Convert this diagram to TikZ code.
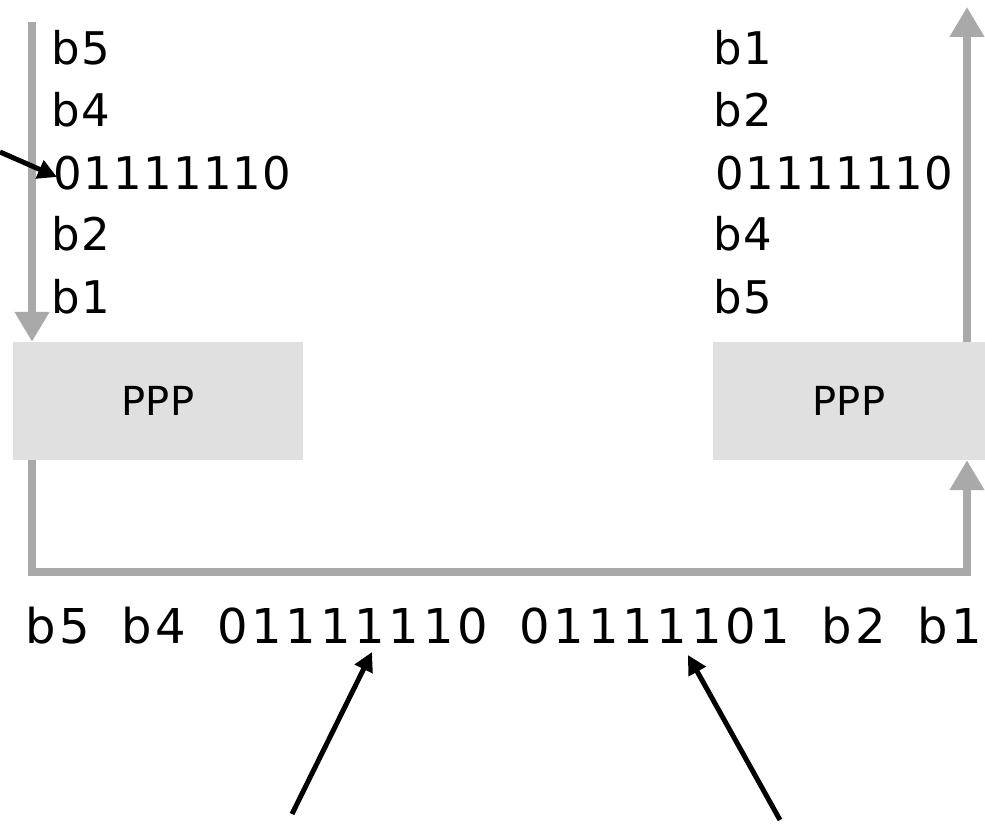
\documentclass[tikz,border=0pt]{standalone}
\usepackage{fontspec}
\setmainfont{DejaVu Sans}
\usetikzlibrary{arrows.meta}
\definecolor{pipe}{HTML}{A9A9A9}
\definecolor{boxfill}{HTML}{E0E0E0}
\newcommand{\gap}{\hspace{12pt} }
\tikzset{
  bits/.style={inner sep=0pt, anchor=base west, font=\fontsize{45}{54}\selectfont\addfontfeature{LetterSpace=3}},
  stream/.style={inner sep=0pt, anchor=base west, font=\fontsize{48}{58}\selectfont\addfontfeature{LetterSpace=8}},
  pppbox/.style={fill=boxfill, draw=none, minimum height=118pt, inner sep=0pt, font=\fontsize{40}{48}\selectfont},
  flow/.style={draw=pipe, line width=8pt, line cap=butt, line join=miter},
  flowtip/.style={-{Triangle[width=33pt,length=30pt]}},
  pointer/.style={draw=black, line width=5pt, -{Triangle[width=19pt,length=19pt]}}
}
\begin{document}
\begin{tikzpicture}[x=1pt,y=-1pt]
\useasboundingbox (0,0) rectangle (985,826);

% protocol boxes
\node[pppbox, minimum width=290pt] (pppA) at (158,401) {PPP};
\node[pppbox, minimum width=272pt] (pppB) at (849,401) {PPP};

% sender side: bytes handed down to PPP
\node[bits] (sb5) at (51,65)  {b5};
\node[bits] (sb4) at (51,127) {b4};
\node[bits] (sflag) at (53,190) {01111110};
\node[bits] (sb2) at (51,251) {b2};
\node[bits] (sb1) at (51,313) {b1};

% receiver side: bytes handed up from PPP
\node[bits] (rb1) at (713,65)  {b1};
\node[bits] (rb2) at (713,127) {b2};
\node[bits] (rflag) at (715,190) {01111110};
\node[bits] (rb4) at (713,251) {b4};
\node[bits] (rb5) at (713,313) {b5};

% stuffed byte stream on the link
\node[stream] (link) at (25,643) {b5\gap b4\gap 01111110\gap 01111101\gap b2\gap b1};

% gray data path
\coordinate (inTop) at (32,22);
\coordinate (outTop) at (967,7);
\coordinate (cornerA) at (32,572);
\coordinate (cornerB) at (967,572);
\draw[flow, flowtip] (inTop) -- (inTop |- pppA.north);
\draw[flow, flowtip] (cornerA |- pppA.south) -- (cornerA) -- (cornerB) -- (cornerB |- pppB.south);
\draw[flow, flowtip] (outTop |- pppB.north) -- (outTop);

% black pointers
\coordinate (pA) at (0,152);
\coordinate (pAtip) at (57,177);
\coordinate (pB) at (292,814);
\coordinate (pBtip) at (372,652);
\coordinate (pC) at (780,820);
\coordinate (pCtip) at (688,655);
\draw[pointer] (pA) -- (pAtip);
\draw[pointer] (pB) -- (pBtip);
\draw[pointer] (pC) -- (pCtip);
\end{tikzpicture}
\end{document}
